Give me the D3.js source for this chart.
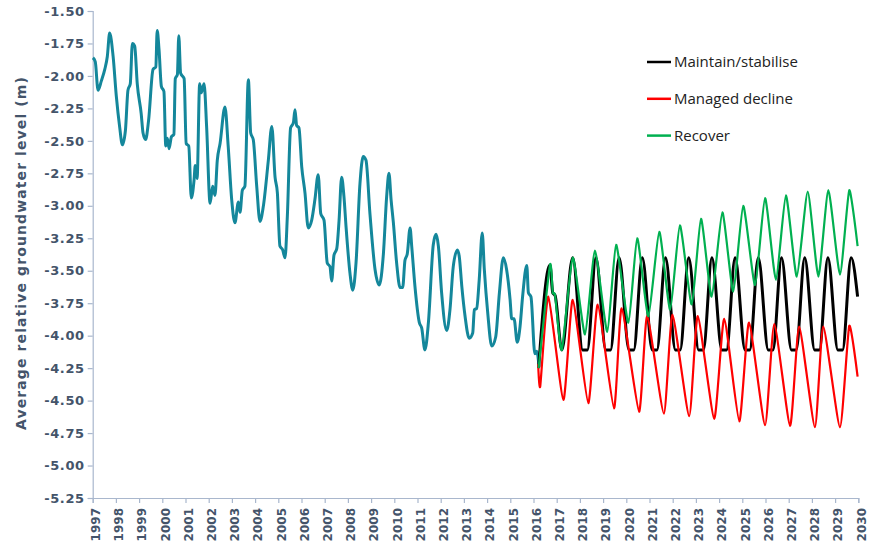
<!DOCTYPE html>
<html><head><meta charset="utf-8">
<script src="https://cdn.jsdelivr.net/npm/d3@7"></script>
<style>
html,body{margin:0;padding:0;background:#fff;}
svg{display:block;}
</style></head>
<body>
<svg id="chart" width="875" height="544"></svg>
<script>
// ---- data ----
const histYear = [1997.01,1997.11,1997.23,1997.37,1997.52,1997.63,1997.73,1997.88,1998.02,1998.16,1998.28,1998.41,1998.52,1998.62,1998.71,1998.81,1998.92,1999.09,1999.17,1999.28,1999.41,1999.60,1999.72,1999.78,1999.86,1999.96,2000.07,2000.15,2000.22,2000.29,2000.39,2000.50,2000.56,2000.65,2000.71,2000.79,2000.94,2001.03,2001.14,2001.25,2001.37,2001.42,2001.50,2001.61,2001.68,2001.80,2001.91,2002.06,2002.17,2002.27,2002.37,2002.49,2002.70,2002.84,2002.99,2003.13,2003.28,2003.35,2003.45,2003.56,2003.71,2003.81,2003.92,2004.07,2004.21,2004.35,2004.57,2004.72,2004.86,2004.96,2005.07,2005.19,2005.29,2005.39,2005.53,2005.65,2005.72,2005.79,2005.89,2006.01,2006.15,2006.29,2006.44,2006.58,2006.72,2006.83,2006.97,2007.11,2007.23,2007.30,2007.40,2007.52,2007.62,2007.73,2007.83,2007.92,2008.09,2008.21,2008.35,2008.52,2008.66,2008.78,2008.95,2009.17,2009.35,2009.53,2009.67,2009.77,2009.86,2009.96,2010.10,2010.25,2010.36,2010.46,2010.56,2010.68,2010.75,2010.89,2011.08,2011.18,2011.32,2011.47,2011.68,2011.80,2011.90,2012.04,2012.26,2012.40,2012.54,2012.72,2012.80,2012.91,2013.05,2013.23,2013.38,2013.45,2013.55,2013.66,2013.79,2013.88,2014.03,2014.20,2014.37,2014.53,2014.70,2014.84,2014.99,2015.06,2015.16,2015.30,2015.42,2015.53,2015.71,2015.78,2015.89,2016.06,2016.14,2016.24];
const histLevel = [-1.86,-1.89,-2.11,-2.04,-1.95,-1.85,-1.67,-1.85,-2.16,-2.39,-2.53,-2.42,-2.11,-2.06,-1.75,-1.77,-2.06,-2.29,-2.44,-2.49,-2.34,-1.95,-1.93,-1.65,-1.80,-2.08,-2.12,-2.54,-2.48,-2.56,-2.47,-2.45,-2.02,-1.99,-1.69,-1.98,-2.02,-2.52,-2.54,-2.94,-2.80,-2.69,-2.79,-2.06,-2.13,-2.06,-2.39,-2.98,-2.85,-2.92,-2.65,-2.52,-2.24,-2.54,-2.95,-3.13,-2.97,-3.05,-2.88,-2.85,-2.03,-2.44,-2.49,-2.85,-3.12,-3.01,-2.65,-2.39,-2.78,-2.90,-3.31,-3.34,-3.40,-3.08,-2.40,-2.36,-2.26,-2.38,-2.40,-2.70,-2.90,-3.17,-3.11,-2.95,-2.76,-3.06,-3.11,-3.44,-3.47,-3.58,-3.38,-3.33,-3.11,-2.78,-2.93,-3.16,-3.52,-3.65,-3.44,-2.83,-2.62,-2.65,-3.06,-3.49,-3.61,-3.37,-2.93,-2.75,-2.95,-3.13,-3.44,-3.63,-3.63,-3.42,-3.37,-3.17,-3.31,-3.62,-3.90,-3.94,-4.11,-3.90,-3.30,-3.22,-3.31,-3.67,-3.96,-3.80,-3.47,-3.34,-3.39,-3.62,-3.85,-4.02,-3.98,-3.80,-3.79,-3.57,-3.21,-3.49,-3.83,-4.08,-4.01,-3.67,-3.40,-3.49,-3.72,-3.87,-3.87,-4.05,-3.93,-3.70,-3.46,-3.67,-3.70,-4.14,-4.12,-4.24];

const maintainYear  = [2016.22,2016.71,2016.83,2016.93,2017.22,2017.69,2018.12,2018.32,2018.69,2019.12,2019.32,2019.69,2020.12,2020.32,2020.69,2021.12,2021.32,2021.69,2022.12,2022.32,2022.69,2023.12,2023.32,2023.69,2024.12,2024.32,2024.69,2025.12,2025.32,2025.69,2026.12,2026.32,2026.69,2027.12,2027.32,2027.69,2028.12,2028.32,2028.69,2029.12,2029.32,2029.69,2029.97];
const maintainLevel = [-4.25,-3.455,-3.67,-3.69,-4.11,-3.40,-4.11,-4.11,-3.40,-4.11,-4.11,-3.40,-4.11,-4.11,-3.40,-4.11,-4.11,-3.40,-4.11,-4.11,-3.40,-4.11,-4.11,-3.40,-4.11,-4.11,-3.40,-4.11,-4.11,-3.40,-4.11,-4.11,-3.40,-4.11,-4.11,-3.40,-4.11,-4.11,-3.40,-4.11,-4.11,-3.40,-3.70];

const declineYear  = [2016.20,2016.29,2016.64,2017.29,2017.69,2018.36,2018.77,2019.47,2019.80,2020.55,2020.90,2021.62,2021.99,2022.71,2023.08,2023.79,2024.22,2024.87,2025.29,2025.98,2026.38,2027.06,2027.45,2028.13,2028.49,2029.21,2029.61,2029.97];
const declineLevel = [-4.22,-4.39,-3.70,-4.495,-3.725,-4.52,-3.76,-4.56,-3.79,-4.585,-3.85,-4.60,-3.84,-4.62,-3.85,-4.64,-3.87,-4.66,-3.90,-4.69,-3.91,-4.695,-3.93,-4.705,-3.93,-4.705,-3.925,-4.315];

const recoverYear  = [2016.22,2016.71,2016.83,2016.93,2017.22,2017.69,2018.22,2018.65,2019.18,2019.56,2020.09,2020.47,2020.95,2021.42,2021.89,2022.31,2022.82,2023.22,2023.68,2024.14,2024.61,2025.04,2025.55,2025.98,2026.45,2026.88,2027.35,2027.82,2028.28,2028.71,2029.21,2029.61,2029.97];
const recoverLevel = [-4.25,-3.455,-3.67,-3.69,-4.11,-3.40,-3.99,-3.345,-3.97,-3.30,-3.90,-3.25,-3.85,-3.20,-3.80,-3.15,-3.76,-3.10,-3.70,-3.05,-3.66,-3.00,-3.61,-2.94,-3.57,-2.92,-3.545,-2.89,-3.545,-2.88,-3.53,-2.88,-3.31];

const yTicks = [-1.50,-1.75,-2.00,-2.25,-2.50,-2.75,-3.00,-3.25,-3.50,-3.75,-4.00,-4.25,-4.50,-4.75,-5.00,-5.25];
const xTicks = [1997,1998,1999,2000,2001,2002,2003,2004,2005,2006,2007,2008,2009,2010,2011,2012,2013,2014,2015,2016,2017,2018,2019,2020,2021,2022,2023,2024,2025,2026,2027,2028,2029,2030];
const seriesNames = ["Maintain/stabilise","Managed decline","Recover"];
const seriesColors = ["#000000","#ff0000","#00b050"];
const yTitle = "Average relative groundwater level (m)";

// ---- drawing ----
const svg = d3.select("#chart");
const x = d3.scaleLinear().domain([1997, 2030]).range([92.7, 858.3]);
const y = d3.scaleLinear().domain([-5.25, -1.5]).range([498, 11]);
const axisColor = "#a9b7cd";
const labelColor = "#44546a";

const zip = (a, b) => a.slice(0, Math.min(a.length, b.length)).map((v, i) => [v, b[i]]);

// Y axis
const yAxis = svg.append("g").attr("transform", "translate(92.7,0)")
  .call(d3.axisLeft(y).tickValues(yTicks).tickFormat(d => d.toFixed(2)).tickSize(5).tickPadding(3));
yAxis.select(".domain").attr("stroke", axisColor).attr("stroke-width", 1.2);
yAxis.selectAll(".tick line").attr("stroke", axisColor).attr("stroke-width", 1.2);
yAxis.selectAll(".tick text").attr("fill", labelColor)
  .style("font-family", "'DejaVu Sans', sans-serif").style("font-weight", "bold")
  .style("font-size", "13px").style("letter-spacing", "0.6px");

// X axis
const xAxis = svg.append("g").attr("transform", "translate(0,498)")
  .call(d3.axisBottom(x).tickValues(xTicks).tickFormat(d => String(d)).tickSize(5).tickPadding(3));
xAxis.select(".domain").attr("stroke", axisColor).attr("stroke-width", 1.2);
xAxis.selectAll(".tick line").attr("stroke", axisColor).attr("stroke-width", 1.2);
xAxis.selectAll(".tick text").attr("fill", labelColor)
  .style("font-family", "'DejaVu Sans', sans-serif").style("font-weight", "bold")
  .style("font-size", "12px")
  .attr("transform", "rotate(-90)")
  .attr("text-anchor", "end")
  .attr("x", -10).attr("y", 2.5).attr("dy", "0.35em");

// Y title
svg.append("text")
  .attr("transform", "translate(26,253) rotate(-90)")
  .attr("text-anchor", "middle")
  .attr("fill", labelColor)
  .style("font-family", "'DejaVu Sans', sans-serif").style("font-weight", "bold")
  .style("font-size", "14px").style("letter-spacing", "1.1px")
  .text(yTitle);

// Lines
const line = d3.line().x(d => x(d[0])).y(d => y(d[1])).curve(d3.curveMonotoneX);
const lineC = d3.line().x(d => x(d[0])).y(d => y(d[1])).curve(d3.curveCardinal.tension(0.45));

svg.append("path").datum(zip(histYear, histLevel))
  .attr("fill", "none").attr("stroke", "#14879b").attr("stroke-width", 3)
  .attr("stroke-linejoin", "round").attr("d", line);
svg.append("path").datum(zip(maintainYear, maintainLevel))
  .attr("fill", "none").attr("stroke", seriesColors[0]).attr("stroke-width", 3)
  .attr("stroke-linejoin", "round").attr("d", line);
svg.append("path").datum(zip(declineYear, declineLevel))
  .attr("fill", "none").attr("stroke", seriesColors[1]).attr("stroke-width", 2.2)
  .attr("stroke-linejoin", "round").attr("d", lineC);
svg.append("path").datum(zip(recoverYear, recoverLevel))
  .attr("fill", "none").attr("stroke", seriesColors[2]).attr("stroke-width", 2.2)
  .attr("stroke-linejoin", "round").attr("d", lineC);

// Legend
const legend = svg.append("g").attr("transform", "translate(647,62)");
seriesNames.forEach((name, i) => {
  const g = legend.append("g").attr("transform", `translate(0,${i * 36.8})`);
  g.append("line").attr("x1", 0).attr("x2", 24).attr("y1", 0).attr("y2", 0)
    .attr("stroke", seriesColors[i]).attr("stroke-width", 2.5);
  g.append("text").attr("x", 27).attr("y", 0).attr("dy", "0.35em")
    .attr("fill", "#222")
    .style("font-family", "'Open Sans', sans-serif").style("font-size", "15px")
    .text(name);
});
</script>
</body></html>
